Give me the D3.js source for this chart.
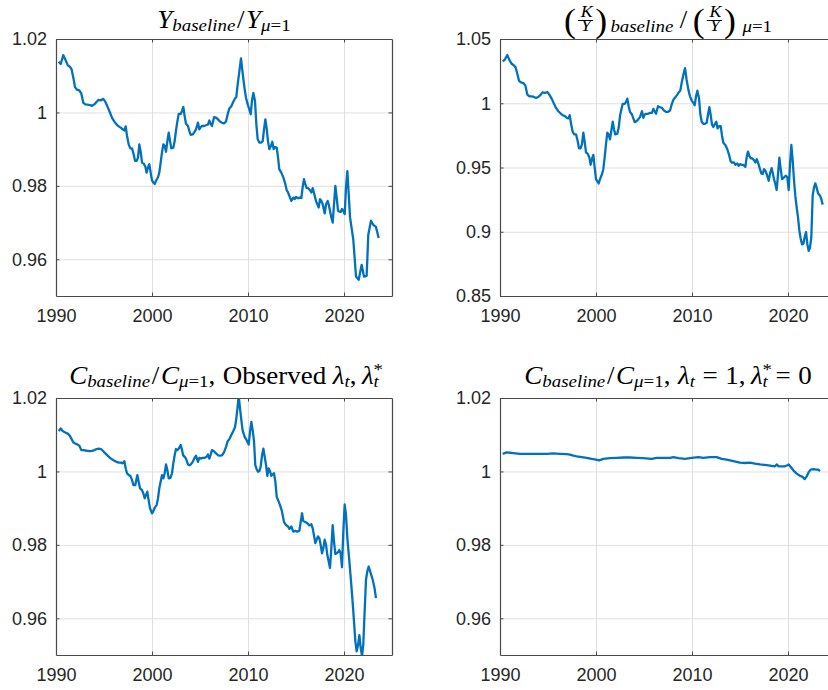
<!DOCTYPE html>
<html>
<head>
<meta charset="utf-8">
<script src="https://cdn.jsdelivr.net/npm/d3@7"></script>
<style>
  html, body { margin: 0; padding: 0; background: #fff; }
  svg { display: block; }
</style>
</head>
<body>
<svg id="fig" width="828" height="690"></svg>
<script>
// ---- Axis ticks ----
const xTicks = [1990, 2000, 2010, 2020];
const xDomain = [1990, 2025];
const yTicksNarrow = [0.96, 0.98, 1, 1.02];
const yDomainNarrow = [0.95, 1.02];
const yTicksKY = [0.85, 0.9, 0.95, 1, 1.05];
const yDomainKY = [0.85, 1.05];

// ---- Output ratio Y_baseline / Y_mu=1 ----
const outputYears = [1990.28,1990.49,1990.76,1990.97,1991.22,1991.46,1991.63,1991.81,1991.98,1992.19,1992.43,1992.64,1992.85,1993.06,1993.30,1993.54,1993.75,1993.99,1994.24,1994.44,1994.69,1994.93,1995.14,1995.38,1995.63,1995.83,1996.08,1996.32,1996.53,1996.77,1996.94,1997.12,1997.26,1997.40,1997.57,1997.74,1997.92,1998.09,1998.23,1998.40,1998.54,1998.68,1998.82,1998.96,1999.13,1999.31,1999.44,1999.58,1999.72,1999.86,2000.00,2000.14,2000.28,2000.42,2000.63,2000.76,2000.90,2001.04,2001.18,2001.32,2001.46,2001.60,2001.74,2001.88,2002.01,2002.22,2002.36,2002.50,2002.64,2002.78,2002.99,2003.13,2003.26,2003.40,2003.54,2003.75,2003.89,2004.03,2004.24,2004.38,2004.58,2004.79,2004.93,2005.07,2005.21,2005.42,2005.63,2005.83,2005.97,2006.11,2006.25,2006.46,2006.67,2006.88,2007.08,2007.29,2007.50,2007.71,2007.88,2008.06,2008.26,2008.47,2008.65,2008.78,2008.92,2009.10,2009.27,2009.44,2009.62,2009.79,2009.97,2010.14,2010.28,2010.42,2010.56,2010.73,2010.87,2011.01,2011.18,2011.35,2011.53,2011.67,2011.81,2011.94,2012.08,2012.22,2012.40,2012.53,2012.67,2012.81,2012.99,2013.13,2013.26,2013.47,2013.68,2013.89,2014.03,2014.17,2014.38,2014.51,2014.72,2014.86,2015.00,2015.21,2015.35,2015.56,2015.69,2015.83,2015.97,2016.11,2016.25,2016.46,2016.60,2016.74,2016.91,2017.08,2017.22,2017.36,2017.50,2017.64,2017.78,2017.99,2018.13,2018.30,2018.40,2018.54,2018.68,2018.82,2018.96,2019.10,2019.24,2019.38,2019.51,2019.65,2019.79,2019.93,2020.07,2020.21,2020.35,2020.49,2020.63,2020.76,2020.97,2021.25,2021.53,2021.84,2022.08,2022.36,2022.53,2022.81,2023.05,2023.33,2023.61];
const outputRatio = [1.0138,1.0132,1.0156,1.0144,1.0129,1.0124,1.0117,1.0094,1.0069,1.0062,1.0060,1.0051,1.0026,1.0022,1.0021,1.0020,1.0018,1.0022,1.0029,1.0034,1.0033,1.0037,1.0029,1.0015,0.9999,0.9986,0.9975,0.9967,0.9962,0.9958,0.9954,0.9951,0.9962,0.9936,0.9913,0.9902,0.9902,0.9886,0.9868,0.9868,0.9877,0.9913,0.9893,0.9863,0.9861,0.9852,0.9836,0.9850,0.9859,0.9836,0.9815,0.9809,0.9805,0.9814,0.9824,0.9836,0.9863,0.9891,0.9913,0.9909,0.9893,0.9922,0.9945,0.9922,0.9902,0.9904,0.9922,0.9951,0.9975,0.9996,0.9996,1.0004,1.0015,0.9990,0.9969,0.9963,0.9949,0.9939,0.9940,0.9945,0.9954,0.9972,0.9954,0.9960,0.9963,0.9963,0.9965,0.9967,0.9978,0.9969,0.9963,0.9987,0.9986,0.9981,0.9975,0.9972,0.9970,0.9975,0.9995,1.0011,1.0017,1.0029,1.0038,1.0042,1.0076,1.0112,1.0147,1.0108,1.0069,1.0040,1.0022,1.0008,0.9995,1.0033,1.0053,1.0031,0.9967,0.9927,0.9918,0.9918,0.9922,0.9954,0.9981,0.9958,0.9922,0.9900,0.9909,0.9920,0.9900,0.9906,0.9904,0.9877,0.9845,0.9836,0.9823,0.9805,0.9788,0.9782,0.9768,0.9759,0.9768,0.9764,0.9770,0.9766,0.9768,0.9767,0.9796,0.9818,0.9805,0.9794,0.9794,0.9788,0.9782,0.9794,0.9777,0.9759,0.9750,0.9741,0.9764,0.9759,0.9750,0.9725,0.9750,0.9759,0.9750,0.9732,0.9714,0.9700,0.9750,0.9800,0.9768,0.9732,0.9730,0.9729,0.9737,0.9732,0.9723,0.9796,0.9840,0.9777,0.9714,0.9691,0.9653,0.9553,0.9544,0.9585,0.9553,0.9555,0.9667,0.9705,0.9694,0.9688,0.9658];

// ---- Capital-output ratio (K/Y)_baseline / (K/Y)_mu=1 ----
const capitalYears = [1990.28,1990.49,1990.76,1990.97,1991.22,1991.46,1991.63,1991.81,1991.98,1992.19,1992.43,1992.64,1992.85,1993.06,1993.30,1993.54,1993.75,1993.99,1994.24,1994.44,1994.69,1994.93,1995.14,1995.38,1995.63,1995.83,1996.08,1996.32,1996.53,1996.77,1996.94,1997.12,1997.26,1997.40,1997.57,1997.74,1997.92,1998.09,1998.23,1998.40,1998.54,1998.68,1998.82,1998.96,1999.13,1999.31,1999.44,1999.58,1999.72,1999.86,2000.00,2000.14,2000.28,2000.42,2000.63,2000.76,2000.90,2001.04,2001.18,2001.32,2001.46,2001.60,2001.74,2001.88,2002.01,2002.22,2002.36,2002.50,2002.64,2002.78,2002.99,2003.13,2003.26,2003.40,2003.54,2003.75,2003.89,2004.03,2004.24,2004.38,2004.58,2004.79,2004.93,2005.07,2005.21,2005.42,2005.63,2005.83,2005.97,2006.11,2006.25,2006.46,2006.67,2006.88,2007.08,2007.29,2007.50,2007.71,2007.88,2008.06,2008.26,2008.47,2008.65,2008.78,2008.92,2009.10,2009.27,2009.44,2009.62,2009.79,2009.97,2010.14,2010.28,2010.42,2010.56,2010.73,2010.87,2011.01,2011.18,2011.35,2011.53,2011.67,2011.81,2011.94,2012.08,2012.22,2012.40,2012.53,2012.67,2012.81,2012.99,2013.13,2013.26,2013.47,2013.68,2013.89,2014.03,2014.17,2014.38,2014.51,2014.72,2014.86,2015.00,2015.21,2015.35,2015.56,2015.69,2015.83,2015.97,2016.11,2016.25,2016.46,2016.60,2016.74,2016.91,2017.08,2017.22,2017.36,2017.50,2017.64,2017.78,2017.99,2018.13,2018.30,2018.40,2018.54,2018.68,2018.82,2018.96,2019.10,2019.24,2019.38,2019.51,2019.65,2019.79,2019.93,2020.07,2020.21,2020.35,2020.49,2020.63,2020.76,2020.90,2021.04,2021.18,2021.32,2021.46,2021.60,2021.74,2021.88,2022.01,2022.15,2022.29,2022.43,2022.57,2022.71,2022.85,2022.99,2023.13,2023.33,2023.47,2023.61];
const capitalRatio = [1.0325,1.0338,1.0376,1.0338,1.0307,1.0294,1.0278,1.0227,1.0175,1.0162,1.0157,1.0139,1.0067,1.0054,1.0054,1.0049,1.0041,1.0049,1.0067,1.0085,1.0080,1.0088,1.0067,1.0036,0.9995,0.9964,0.9938,0.9920,0.9907,0.9900,0.9887,0.9882,0.9907,0.9840,0.9778,0.9758,0.9758,0.9706,0.9650,0.9650,0.9681,0.9771,0.9701,0.9616,0.9608,0.9577,0.9521,0.9565,0.9598,0.9500,0.9410,0.9392,0.9376,0.9410,0.9449,0.9487,0.9577,0.9681,0.9771,0.9758,0.9719,0.9789,0.9856,0.9796,0.9758,0.9763,0.9809,0.9900,0.9951,0.9995,0.9995,1.0010,1.0036,0.9977,0.9933,0.9912,0.9882,0.9853,0.9861,0.9874,0.9892,0.9938,0.9887,0.9912,0.9918,0.9918,0.9925,0.9925,0.9956,0.9938,0.9918,0.9977,0.9969,0.9964,0.9943,0.9933,0.9933,0.9943,0.9990,1.0028,1.0046,1.0067,1.0088,1.0098,1.0157,1.0222,1.0273,1.0183,1.0106,1.0054,1.0021,1.0003,0.9985,1.0054,1.0098,1.0041,0.9912,0.9856,0.9840,0.9840,0.9848,0.9912,0.9969,0.9912,0.9835,0.9815,0.9840,0.9856,0.9804,0.9822,0.9822,0.9745,0.9693,0.9675,0.9642,0.9590,0.9547,0.9539,0.9539,0.9521,0.9531,0.9513,0.9526,0.9521,0.9521,0.9505,0.9577,0.9624,0.9590,0.9572,0.9572,0.9557,0.9539,0.9565,0.9531,0.9487,0.9454,0.9449,0.9487,0.9474,0.9449,0.9397,0.9454,0.9495,0.9461,0.9410,0.9371,0.9325,0.9449,0.9577,0.9487,0.9410,0.9418,0.9428,0.9436,0.9423,0.9325,0.9526,0.9675,0.9552,0.9397,0.9281,0.9191,0.9114,0.9010,0.8946,0.8902,0.8907,0.8959,0.8998,0.8907,0.8851,0.8876,0.8959,0.9281,0.9345,0.9376,0.9340,0.9299,0.9281,0.9255,0.9211];

// ---- Consumption ratio, observed lambda_t and lambda*_t ----
const consObsYears = [1990.28,1990.49,1990.69,1990.97,1991.22,1991.39,1991.63,1991.81,1992.01,1992.26,1992.43,1992.64,1992.85,1993.06,1993.30,1993.54,1993.75,1993.99,1994.24,1994.44,1994.69,1994.93,1995.14,1995.38,1995.63,1995.83,1996.08,1996.32,1996.53,1996.77,1996.94,1997.12,1997.26,1997.40,1997.57,1997.74,1997.92,1998.06,1998.26,1998.47,1998.61,1998.75,1998.96,1999.10,1999.24,1999.38,1999.51,1999.65,1999.79,2000.00,2000.14,2000.28,2000.49,2000.63,2000.76,2000.90,2001.04,2001.18,2001.32,2001.46,2001.60,2001.74,2001.94,2002.08,2002.22,2002.36,2002.50,2002.64,2002.78,2002.99,2003.13,2003.26,2003.40,2003.54,2003.75,2003.89,2004.03,2004.24,2004.38,2004.58,2004.79,2004.93,2005.07,2005.28,2005.49,2005.69,2005.83,2005.97,2006.11,2006.25,2006.46,2006.67,2006.88,2007.08,2007.29,2007.50,2007.71,2007.88,2008.06,2008.26,2008.47,2008.65,2008.78,2008.92,2009.03,2009.17,2009.31,2009.44,2009.65,2009.86,2010.07,2010.21,2010.35,2010.49,2010.63,2010.76,2010.90,2011.04,2011.18,2011.32,2011.46,2011.60,2011.74,2011.88,2012.01,2012.15,2012.29,2012.43,2012.57,2012.71,2012.85,2012.99,2013.13,2013.33,2013.54,2013.75,2013.96,2014.17,2014.31,2014.51,2014.72,2014.93,2015.14,2015.35,2015.49,2015.63,2015.76,2015.97,2016.18,2016.39,2016.60,2016.74,2016.88,2017.01,2017.15,2017.29,2017.43,2017.57,2017.71,2017.85,2017.99,2018.13,2018.26,2018.40,2018.54,2018.68,2018.82,2018.96,2019.10,2019.24,2019.38,2019.51,2019.65,2019.79,2019.93,2020.07,2020.21,2020.35,2020.56,2020.76,2020.97,2021.18,2021.32,2021.46,2021.60,2021.74,2021.88,2022.01,2022.15,2022.29,2022.43,2022.57,2022.78,2022.99,2023.19,2023.33];
const consObsRatio = [1.0110,1.0117,1.0110,1.0106,1.0103,1.0099,1.0088,1.0079,1.0076,1.0073,1.0070,1.0058,1.0058,1.0057,1.0056,1.0055,1.0056,1.0058,1.0061,1.0062,1.0061,1.0055,1.0049,1.0043,1.0037,1.0033,1.0029,1.0026,1.0024,1.0024,1.0022,1.0028,1.0008,0.9995,0.9990,0.9988,0.9977,0.9963,0.9963,0.9990,0.9972,0.9954,0.9949,0.9940,0.9927,0.9936,0.9945,0.9922,0.9900,0.9886,0.9892,0.9901,0.9909,0.9927,0.9954,0.9972,0.9990,0.9981,0.9995,1.0019,1.0004,0.9981,0.9983,0.9995,1.0022,1.0044,1.0061,1.0058,1.0062,1.0072,1.0058,1.0043,1.0040,1.0035,1.0019,1.0017,1.0019,1.0026,1.0034,1.0043,1.0026,1.0037,1.0035,1.0037,1.0037,1.0040,1.0046,1.0035,1.0046,1.0058,1.0055,1.0049,1.0044,1.0043,1.0044,1.0052,1.0067,1.0082,1.0088,1.0099,1.0110,1.0121,1.0144,1.0176,1.0206,1.0171,1.0139,1.0112,1.0094,1.0085,1.0073,1.0108,1.0135,1.0112,1.0081,1.0017,1.0006,0.9999,1.0001,1.0013,1.0044,1.0062,1.0040,1.0017,0.9988,1.0008,1.0001,0.9988,0.9992,0.9995,0.9972,0.9931,0.9922,0.9909,0.9891,0.9862,0.9854,0.9850,0.9843,0.9850,0.9836,0.9838,0.9836,0.9838,0.9863,0.9886,0.9865,0.9862,0.9859,0.9853,0.9856,0.9845,0.9825,0.9805,0.9814,0.9823,0.9818,0.9800,0.9777,0.9791,0.9814,0.9800,0.9773,0.9755,0.9737,0.9791,0.9854,0.9809,0.9775,0.9777,0.9780,0.9786,0.9777,0.9739,0.9836,0.9910,0.9881,0.9818,0.9755,0.9691,0.9619,0.9538,0.9510,0.9527,0.9554,0.9519,0.9497,0.9529,0.9619,0.9705,0.9728,0.9741,0.9723,0.9705,0.9681,0.9655];

// ---- Consumption ratio, lambda_t = 1 and lambda*_t = 0 ----
const consFixYears = [1990.28,1990.69,1991.39,1992.08,1992.78,1993.47,1994.17,1994.86,1995.56,1996.25,1996.94,1997.29,1997.64,1997.99,1998.51,1999.03,1999.55,2000.00,2000.35,2000.76,2001.46,2002.15,2002.85,2003.54,2004.24,2004.93,2005.80,2006.32,2007.01,2007.71,2008.06,2008.58,2009.27,2009.97,2010.66,2011.18,2011.88,2012.57,2013.09,2013.61,2014.31,2015.00,2015.52,2016.04,2016.56,2017.08,2017.78,2018.30,2018.65,2018.82,2019.03,2019.34,2019.69,2019.93,2020.07,2020.28,2020.56,2020.90,2021.25,2021.53,2021.74,2021.94,2022.15,2022.36,2022.64,2022.92,2023.16,2023.33];
const consFixRatio = [1.0048,1.0052,1.0050,1.0048,1.0048,1.0048,1.0048,1.0048,1.0049,1.0048,1.0047,1.0046,1.0043,1.0041,1.0039,1.0037,1.0034,1.0032,1.0030,1.0034,1.0036,1.0037,1.0038,1.0038,1.0037,1.0036,1.0034,1.0037,1.0037,1.0037,1.0039,1.0036,1.0034,1.0037,1.0039,1.0037,1.0039,1.0039,1.0034,1.0032,1.0028,1.0024,1.0023,1.0024,1.0021,1.0019,1.0017,1.0015,1.0014,1.0019,1.0014,1.0014,1.0014,1.0017,1.0019,1.0012,1.0003,0.9994,0.9988,0.9985,0.9979,0.9986,0.9998,1.0005,1.0006,1.0005,1.0005,1.0001];

// ---- Title pieces: it = math italic, rm = upright, sub/subrm = subscript, sup = superscript ----
const titleOutput = [
  {t: "Y", k: "it"}, {t: "baseline", k: "sub"}, {k: "gap", w: 1.5}, {t: "/", k: "rm"}, {k: "gap", w: 1.5},
  {t: "Y", k: "it"}, {t: "μ", k: "sub"}, {t: "=1", k: "subrm"}
];
const titleCapital = [
  {k: "frac", num: "K", den: "Y"}, {k: "gap", w: 3}, {t: "baseline", k: "sub2"}, {k: "gap", w: 6},
  {t: "/", k: "rm"}, {k: "gap", w: 5},
  {k: "frac", num: "K", den: "Y"}, {k: "gap", w: 6}, {t: "μ", k: "sub2"}, {t: "=1", k: "subrm2"}
];
const titleConsObs = [
  {t: "C", k: "it"}, {t: "baseline", k: "sub"}, {k: "gap", w: 1.5}, {t: "/", k: "rm"}, {k: "gap", w: 1.5},
  {t: "C", k: "it"}, {t: "μ", k: "sub"}, {t: "=1", k: "subrm"}, {t: ",", k: "rm"},
  {k: "gap", w: 7}, {t: "Observed", k: "rm"}, {k: "gap", w: 6},
  {t: "λ", k: "it"}, {t: "t", k: "sub"}, {t: ",", k: "rm"}, {k: "gap", w: 5},
  {t: "λ", k: "it"}, {t: "*", k: "sup", stack: true}, {t: "t", k: "sub"}
];
const titleConsFix = [
  {t: "C", k: "it"}, {t: "baseline", k: "sub"}, {k: "gap", w: 1.5}, {t: "/", k: "rm"}, {k: "gap", w: 1.5},
  {t: "C", k: "it"}, {t: "μ", k: "sub"}, {t: "=1", k: "subrm"}, {t: ",", k: "rm"},
  {k: "gap", w: 7}, {t: "λ", k: "it"}, {t: "t", k: "sub"}, {k: "gap", w: 7},
  {t: "=", k: "rm"}, {k: "gap", w: 7}, {t: "1", k: "rm"}, {t: ",", k: "rm"}, {k: "gap", w: 5},
  {t: "λ", k: "it"}, {t: "*", k: "sup", stack: true}, {t: "t", k: "sub"}, {k: "gap", w: 7},
  {t: "=", k: "rm"}, {k: "gap", w: 7}, {t: "0", k: "rm"}
];

// ---- Panel layout ----
const panels = [
  {left: 56,  top: 39,  years: outputYears,  values: outputRatio,  yDomain: yDomainNarrow, yTicks: yTicksNarrow, title: titleOutput},
  {left: 500, top: 39,  years: capitalYears, values: capitalRatio, yDomain: yDomainKY,     yTicks: yTicksKY,     title: titleCapital},
  {left: 56,  top: 398, years: consObsYears, values: consObsRatio, yDomain: yDomainNarrow, yTicks: yTicksNarrow, title: titleConsObs},
  {left: 500, top: 398, years: consFixYears, values: consFixRatio, yDomain: yDomainNarrow, yTicks: yTicksNarrow, title: titleConsFix}
];
const W = 336, H = 257;
const lineColor = "#0072BD";
const axisColor = "#4a4a4a";
const gridColor = "#e0e0e0";
const tickFont = "'Liberation Sans', Arial, Helvetica, sans-serif";
const mathFont = "'Liberation Serif', 'Times New Roman', serif";
const mainSize = 25, subSize = 17.5;
const titleStretch = 1.08;   // widen the serif glyphs toward a TeX-like set width

const svg = d3.select("#fig");
const fmt = d3.format("~g");

// Lays a title out as one <text> element whose tspans carry absolute positions.
function drawTitle(parent, cx, baseline, tokens) {
  const tg = parent.append("g");
  const txt = tg.append("text").attr("font-family", mathFont).attr("fill", "#000");
  const styles = {
    it:     {size: mainSize, italic: true,  dy: 0},
    rm:     {size: mainSize, italic: false, dy: 0},
    sub:    {size: subSize,  italic: true,  dy: 3.5},
    subrm:  {size: subSize,  italic: false, dy: 3.5},
    sub2:   {size: subSize,  italic: true,  dy: 4.5},
    subrm2: {size: subSize,  italic: false, dy: 4.5},
    sup:    {size: subSize,  italic: false, dy: -9}
  };
  const span = (t, xx, yy, size, italic) => {
    const s = txt.append("tspan").attr("x", xx).attr("y", yy)
      .attr("font-size", size).attr("font-style", italic ? "italic" : "normal").text(t);
    return s.node().getComputedTextLength();
  };
  let x = 0;
  tokens.forEach(tok => {
    if (tok.k === "gap") { x += tok.w; return; }
    if (tok.k === "frac") {
      x += span("(", x, baseline + 4.5, 33, false) + 2;
      const fs = 16.5;
      const nw = span(tok.num, -1000, -1000, fs, true);
      const dw = span(tok.den, -1000, -1000, fs, true);
      txt.selectAll("tspan").filter((d, i, n) => i >= n.length - 2).remove();
      const fw = Math.max(nw, dw) + 3;
      span(tok.num, x + (fw - nw) / 2 + 1, baseline - 10.5, fs, true);
      span(tok.den, x + (fw - dw) / 2 + 0.5, baseline + 3, fs, true);
      tg.append("line").attr("x1", x).attr("x2", x + fw)
        .attr("y1", baseline - 7.5).attr("y2", baseline - 7.5)
        .attr("stroke", "#000").attr("stroke-width", 0.9);
      x += fw + 2;
      x += span(")", x, baseline + 4.5, 33, false);
      return;
    }
    const st = styles[tok.k];
    const w = span(tok.t, x, baseline + st.dy, st.size, st.italic);
    if (!tok.stack) x += w;
  });
  tg.attr("transform", `translate(${cx - x * titleStretch / 2},0) scale(${titleStretch},1)`);
}

panels.forEach((p, i) => {
  const g = svg.append("g").attr("transform", `translate(${p.left},${p.top})`);
  const x = d3.scaleLinear().domain(xDomain).range([0, W]);
  const y = d3.scaleLinear().domain(p.yDomain).range([H, 0]);

  // grid
  g.append("g").attr("transform", `translate(0,${H})`)
    .call(d3.axisBottom(x).tickValues(xTicks).tickSize(-H).tickFormat(""))
    .call(a => a.select(".domain").remove())
    .call(a => a.selectAll("line").attr("stroke", gridColor).attr("stroke-width", 1));
  g.append("g")
    .call(d3.axisLeft(y).tickValues(p.yTicks).tickSize(-W).tickFormat(""))
    .call(a => a.select(".domain").remove())
    .call(a => a.selectAll("line").attr("stroke", gridColor).attr("stroke-width", 1));

  // data line, clipped to the axes box
  const clipId = "clip" + i;
  g.append("clipPath").attr("id", clipId)
    .append("rect").attr("x", 0).attr("y", 0).attr("width", W).attr("height", H);
  const pts = p.years.map((yr, j) => [yr, p.values[j]]);
  g.append("path")
    .attr("clip-path", `url(#${clipId})`)
    .attr("d", d3.line().x(d => x(d[0])).y(d => y(d[1]))(pts))
    .attr("fill", "none").attr("stroke", lineColor)
    .attr("stroke-width", 2.3).attr("stroke-linejoin", "round");

  // box axes with inward ticks on all sides
  const styleAxis = a => {
    a.select(".domain").attr("stroke", axisColor).attr("stroke-width", 1.2);
    a.selectAll(".tick line").attr("stroke", axisColor).attr("stroke-width", 1);
    a.selectAll("text").attr("fill", "#262626").attr("font-family", tickFont).attr("font-size", 18);
  };
  g.append("g").attr("transform", `translate(0,${H})`)
    .call(d3.axisBottom(x).tickValues(xTicks).tickSizeInner(-3.5).tickSizeOuter(0)
      .tickPadding(13.5).tickFormat(d3.format("d")))
    .call(styleAxis);
  g.append("g")
    .call(d3.axisTop(x).tickValues(xTicks).tickSizeInner(-3.5).tickSizeOuter(0).tickFormat(""))
    .call(styleAxis);
  g.append("g")
    .call(d3.axisLeft(y).tickValues(p.yTicks).tickSizeInner(-3.5).tickSizeOuter(0)
      .tickPadding(9).tickFormat(fmt))
    .call(styleAxis);
  g.append("g").attr("transform", `translate(${W},0)`)
    .call(d3.axisRight(y).tickValues(p.yTicks).tickSizeInner(-3.5).tickSizeOuter(0).tickFormat(""))
    .call(styleAxis);

  drawTitle(svg, p.left + W / 2, p.top - (p.top < 100 ? 11 : 14), p.title);
});
</script>
</body>
</html>
